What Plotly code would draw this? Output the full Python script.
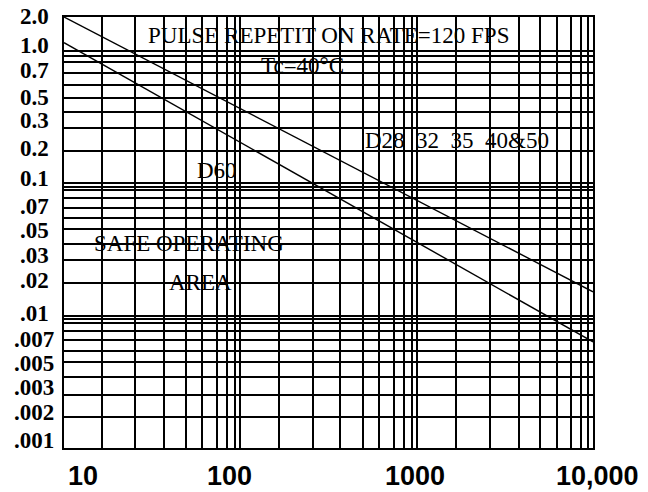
import plotly.graph_objects as go
import math

# ---- data ----
FREQ = [10, 10000]                 # pulse width axis endpoints
D28_50 = [1.79, 0.0151]            # upper line (D28, 32, 35, 40&50)
D60 = [1.145, 0.00632]             # lower line (D60)

# grid lines as drawn (values, per the hand-drawn grid)
X_GRID = [10, 16.5, 25.4, 36.7, 49.3, 60.8, 73.4, 84.1, 92.9,
          100, 165.6, 257, 369, 499, 611, 743, 851, 945,
          1000, 1676, 2600, 3784, 5029, 6223, 7519, 8531, 9426, 10000]
Y_GRID = [0.001, 0.0017, 0.00251, 0.00346, 0.00442, 0.00538, 0.00654, 0.00765, 0.00875, 0.00934,
          0.01, 0.0175, 0.0263, 0.0346, 0.0451, 0.0543, 0.0653, 0.0769, 0.0888, 0.0941,
          0.1, 0.175, 0.262, 0.345, 0.438, 0.552, 0.676, 0.813, 0.914, 1.0]

X_LABELS = ["10", "100", "1000", "10,000"]
Y_LABELS = ["2.0", "1.0", "0.7", "0.5", "0.3", "0.2", "0.1", ".07", ".05", ".03",
            ".02", ".01", ".007", ".005", ".003", ".002", ".001"]

# ---- layout geometry (pixels) ----
W, H = 648, 492
L, R, T, B = 64, 593, 17, 448
X_LABEL_PX = [83, 229, 415, 597]
Y_LABEL_PX = [16.5, 45, 71, 98, 120, 148, 178, 207, 230, 255, 280, 313, 339, 363, 387, 412, 440]


def px(xp, yp):
    return (xp - L) / (R - L), (B - yp) / (B - T)


fig = go.Figure()
for ys in (D28_50, D60):
    fig.add_trace(go.Scatter(x=FREQ, y=ys, mode="lines",
                             line=dict(color="black", width=1.4),
                             showlegend=False, hoverinfo="skip"))

ann = []
for t, xp in zip(X_LABELS, X_LABEL_PX):
    x, y = px(xp, 476)
    ann.append(dict(text=t, x=x, y=y, xref="paper", yref="paper", showarrow=False,
                    xanchor="center", yanchor="middle",
                    font=dict(family="Liberation Sans", size=27, color="black", weight="bold")))
for t, yp in zip(Y_LABELS, Y_LABEL_PX):
    x, y = px(34, yp)
    ann.append(dict(text=t, x=x, y=y, xref="paper", yref="paper", showarrow=False,
                    xanchor="center", yanchor="middle",
                    font=dict(family="Liberation Serif", size=23, color="black", weight="bold")))

serif = dict(family="Liberation Serif", size=23, color="black")
for t, xp, yp in [("PULSE REPETIT ON RATE=120 FPS", 328, 36),
                  ("Tc=40°C", 302, 66),
                  ("D28&nbsp;&nbsp;32&nbsp;&nbsp;35&nbsp;&nbsp;40&amp;50", 457, 140),
                  ("D60", 217, 170),
                  ("SAFE OPERATING", 189, 243),
                  ("AREA", 200, 282)]:
    x, y = px(xp, yp)
    ann.append(dict(text=t, x=x, y=y, xref="paper", yref="paper", showarrow=False,
                    xanchor="center", yanchor="middle", font=serif))

fig.update_layout(
    width=W, height=H,
    margin=dict(l=L, r=W - R, t=T, b=H - B, pad=0),
    paper_bgcolor="white", plot_bgcolor="white",
    annotations=ann,
    xaxis=dict(type="log", range=[1, 4], tickvals=X_GRID, showticklabels=False, ticks="",
               showgrid=True, gridcolor="black", gridwidth=1.8,
               showline=True, linecolor="black", linewidth=2, mirror=True, zeroline=False),
    yaxis=dict(type="log", range=[-3, math.log10(1.79)], tickvals=Y_GRID, showticklabels=False,
               ticks="", showgrid=True, gridcolor="black", gridwidth=1.8,
               showline=True, linecolor="black", linewidth=2, mirror=True, zeroline=False),
)

fig.write_html("out.html", config={"displayModeBar": False},
               post_script="document.body.style.margin='0';")
